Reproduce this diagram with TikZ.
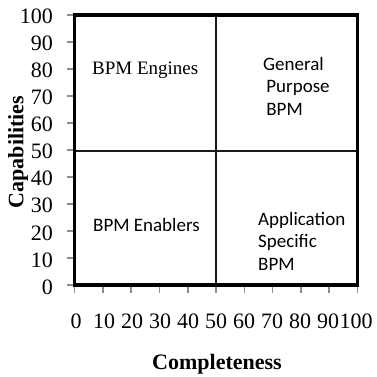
\documentclass[tikz,border=0pt]{standalone}
\usepackage{fontspec}
\setmainfont{Liberation Serif}
\newfontfamily\calib{Carlito}
\begin{document}
\begin{tikzpicture}[x=1bp,y=-1bp,
  numlbl/.style={font=\fontsize{22bp}{24bp}\selectfont, inner sep=0pt},
  axtitle/.style={font=\fontsize{22bp}{24bp}\selectfont\bfseries, inner sep=0pt},
  quadserif/.style={font=\fontsize{19bp}{22bp}\selectfont, inner sep=0pt, anchor=west},
  quadsans/.style={font=\calib\fontsize{19bp}{22.5bp}\selectfont, inner sep=0pt, anchor=north west, align=left},
  frame/.style={line width=3.6bp, black},
  midline/.style={line width=2bp, black!90},
  tick/.style={line width=1.6bp, black!45}]
\useasboundingbox (0,0) rectangle (377,377);
% plot corners
\coordinate (bl) at (74.5,285);
\coordinate (tr) at (357.5,15);
% tick marks
\foreach \i in {0,...,10} {
  \draw[tick] (67,{285-27*\i}) -- (74.5,{285-27*\i});
  \draw[tick] ({74.5+28.3*\i},285) -- ({74.5+28.3*\i},293);
}
% quadrant dividers
\coordinate (mt) at (216,15);
\coordinate (mb) at (216,285);
\coordinate (ml) at (74.5,151);
\coordinate (mr) at (357.5,151);
\draw[midline] (mt) -- (mb);
\draw[midline] (ml) -- (mr);
% frame
\draw[frame] (bl) rectangle (tr);
% axis numbers
\foreach \i in {0,...,10} {
  \pgfmathtruncatemacro{\v}{10*\i}
  \node[numlbl, anchor=east] (y\i) at (53,{287-27.1*\i}) {\v};
  \node[numlbl] (x\i) at ({76+28*\i},321) {\v};
}
% axis titles
\node[axtitle] (xt) at (217,364) {Completeness};
\node[axtitle, rotate=90] (yt) at (18,152) {Capabilities};
% quadrant labels
\node[quadserif] (q1) at (92,70) {BPM Engines};
\node[quadsans] (q2) at (263,57) {General\\[0pt]\,Purpose\\[0pt]\,BPM};
\node[font=\calib\fontsize{19bp}{22bp}\selectfont, inner sep=0pt, anchor=west] (q3) at (93,225) {BPM Enablers};
\node[quadsans] (q4) at (258,212) {Application\\Specific\\BPM};
\end{tikzpicture}
\end{document}
